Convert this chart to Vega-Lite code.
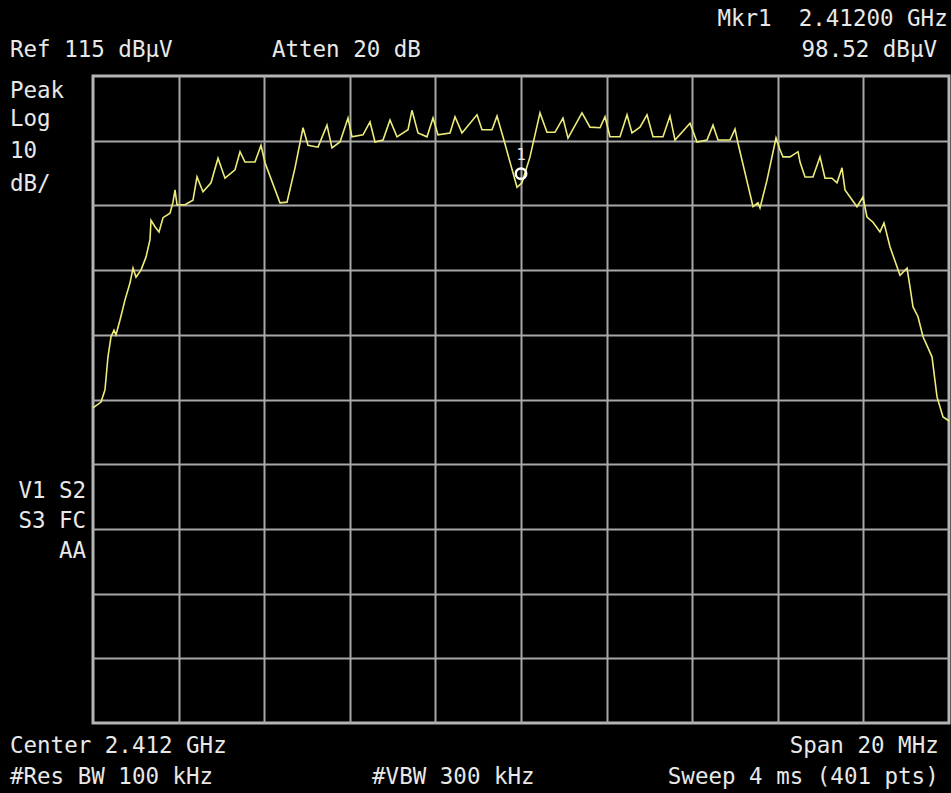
{
  "$schema": "https://vega.github.io/schema/vega-lite/v6.json",
  "autosize": "none",
  "width": 856,
  "height": 647,
  "padding": {"left": 93, "top": 76, "right": 2, "bottom": 70},
  "background": "#000000",
  "config": {
    "view": {"stroke": "#b4b4b4", "strokeWidth": 3, "fill": "#000000"},
    "text": {"font": "DejaVu Sans Mono", "fontSize": 22.5, "color": "#e8e8e8"}
  },
  "datasets": {
    "trace": [
      {"f": 2402.000, "db": 63.7}, {"f": 2402.187, "db": 64.6}, {"f": 2402.280, "db": 66.5}, {"f": 2402.350, "db": 71.6},
      {"f": 2402.421, "db": 74.7}, {"f": 2402.491, "db": 75.7}, {"f": 2402.537, "db": 75.0}, {"f": 2402.631, "db": 77.3},
      {"f": 2402.748, "db": 80.4}, {"f": 2402.864, "db": 83.0}, {"f": 2402.935, "db": 85.3}, {"f": 2403.005, "db": 83.9},
      {"f": 2403.121, "db": 85.0}, {"f": 2403.238, "db": 87.0}, {"f": 2403.332, "db": 89.7}, {"f": 2403.355, "db": 92.7},
      {"f": 2403.449, "db": 91.7}, {"f": 2403.542, "db": 90.9}, {"f": 2403.636, "db": 93.1}, {"f": 2403.799, "db": 93.8},
      {"f": 2403.869, "db": 95.5}, {"f": 2403.916, "db": 97.4}, {"f": 2403.963, "db": 95.1}, {"f": 2404.150, "db": 95.1},
      {"f": 2404.336, "db": 95.8}, {"f": 2404.430, "db": 99.4}, {"f": 2404.570, "db": 97.1}, {"f": 2404.757, "db": 98.5},
      {"f": 2404.921, "db": 102.3}, {"f": 2405.084, "db": 99.2}, {"f": 2405.318, "db": 100.5}, {"f": 2405.435, "db": 103.3},
      {"f": 2405.551, "db": 101.7}, {"f": 2405.785, "db": 101.7}, {"f": 2405.925, "db": 104.3}, {"f": 2406.019, "db": 101.6},
      {"f": 2406.369, "db": 95.4}, {"f": 2406.533, "db": 95.5}, {"f": 2406.720, "db": 100.8}, {"f": 2406.907, "db": 107.0},
      {"f": 2407.023, "db": 104.3}, {"f": 2407.257, "db": 104.0}, {"f": 2407.467, "db": 107.4}, {"f": 2407.584, "db": 103.9},
      {"f": 2407.771, "db": 104.8}, {"f": 2407.958, "db": 108.5}, {"f": 2408.051, "db": 105.6}, {"f": 2408.308, "db": 105.9},
      {"f": 2408.472, "db": 107.9}, {"f": 2408.589, "db": 104.8}, {"f": 2408.776, "db": 105.1}, {"f": 2408.939, "db": 108.2},
      {"f": 2409.103, "db": 105.6}, {"f": 2409.360, "db": 106.7}, {"f": 2409.453, "db": 109.7}, {"f": 2409.593, "db": 106.2},
      {"f": 2409.804, "db": 105.6}, {"f": 2409.944, "db": 108.5}, {"f": 2410.061, "db": 105.9}, {"f": 2410.341, "db": 106.2},
      {"f": 2410.458, "db": 108.7}, {"f": 2410.621, "db": 106.2}, {"f": 2410.972, "db": 109.0}, {"f": 2411.089, "db": 106.7},
      {"f": 2411.322, "db": 106.7}, {"f": 2411.439, "db": 108.8}, {"f": 2411.579, "db": 105.6}, {"f": 2411.907, "db": 97.8},
      {"f": 2412.023, "db": 98.5}, {"f": 2412.210, "db": 102.5}, {"f": 2412.444, "db": 109.3}, {"f": 2412.607, "db": 106.3},
      {"f": 2412.794, "db": 106.3}, {"f": 2412.981, "db": 108.5}, {"f": 2413.098, "db": 105.4}, {"f": 2413.425, "db": 109.3},
      {"f": 2413.612, "db": 107.1}, {"f": 2413.846, "db": 107.0}, {"f": 2413.963, "db": 108.7}, {"f": 2414.079, "db": 105.6},
      {"f": 2414.313, "db": 105.6}, {"f": 2414.477, "db": 109.0}, {"f": 2414.593, "db": 106.2}, {"f": 2414.780, "db": 107.1},
      {"f": 2414.944, "db": 109.0}, {"f": 2415.084, "db": 105.6}, {"f": 2415.318, "db": 105.6}, {"f": 2415.481, "db": 108.8},
      {"f": 2415.598, "db": 105.1}, {"f": 2415.949, "db": 107.7}, {"f": 2416.112, "db": 104.8}, {"f": 2416.346, "db": 105.1},
      {"f": 2416.486, "db": 107.4}, {"f": 2416.603, "db": 105.1}, {"f": 2416.883, "db": 105.1}, {"f": 2417.000, "db": 106.8},
      {"f": 2417.070, "db": 104.6}, {"f": 2417.421, "db": 94.8}, {"f": 2417.537, "db": 95.4}, {"f": 2417.584, "db": 94.6},
      {"f": 2417.748, "db": 98.9}, {"f": 2417.958, "db": 105.4}, {"f": 2418.051, "db": 103.6}, {"f": 2418.121, "db": 102.5},
      {"f": 2418.285, "db": 102.5}, {"f": 2418.472, "db": 103.3}, {"f": 2418.519, "db": 101.7}, {"f": 2418.636, "db": 99.4},
      {"f": 2418.822, "db": 99.4}, {"f": 2418.986, "db": 102.5}, {"f": 2419.103, "db": 99.2}, {"f": 2419.266, "db": 99.2},
      {"f": 2419.383, "db": 98.5}, {"f": 2419.500, "db": 100.8}, {"f": 2419.570, "db": 97.4}, {"f": 2419.850, "db": 94.8},
      {"f": 2419.991, "db": 96.3}, {"f": 2420.084, "db": 93.2}, {"f": 2420.224, "db": 92.4}, {"f": 2420.388, "db": 90.9},
      {"f": 2420.481, "db": 92.3}, {"f": 2420.621, "db": 88.6}, {"f": 2420.855, "db": 84.2}, {"f": 2421.019, "db": 85.3},
      {"f": 2421.089, "db": 82.4}, {"f": 2421.159, "db": 79.3}, {"f": 2421.276, "db": 77.8}, {"f": 2421.393, "db": 74.7},
      {"f": 2421.603, "db": 71.6}, {"f": 2421.720, "db": 65.4}, {"f": 2421.860, "db": 62.3}, {"f": 2421.977, "db": 61.8},
      {"f": 2422.000, "db": 61.6}
    ],
    "marker": [{"f": 2412.0, "db": 98.52, "label": "1"}],
    "leftText": [
      {"f": 2400.06, "db": 117.9, "label": "Ref 115 dBµV"},
      {"f": 2406.18, "db": 117.9, "label": "Atten 20 dB"},
      {"f": 2400.06, "db": 111.6, "label": "Peak"},
      {"f": 2400.06, "db": 107.2, "label": "Log"},
      {"f": 2400.06, "db": 102.3, "label": "10"},
      {"f": 2400.06, "db": 97.3, "label": "dB/"},
      {"f": 2400.06, "db": 10.3, "label": "Center 2.412 GHz"},
      {"f": 2400.06, "db": 5.5, "label": "#Res BW 100 kHz"},
      {"f": 2408.52, "db": 5.5, "label": "#VBW 300 kHz"}
    ],
    "rightText": [
      {"f": 2421.97, "db": 122.7, "label": "Mkr1\u00a0\u00a02.41200 GHz"},
      {"f": 2421.72, "db": 117.9, "label": "98.52 dBµV"},
      {"f": 2401.84, "db": 49.8, "label": "V1 S2"},
      {"f": 2401.84, "db": 45.2, "label": "S3 FC"},
      {"f": 2401.84, "db": 40.5, "label": "AA"},
      {"f": 2421.76, "db": 10.3, "label": "Span 20 MHz"},
      {"f": 2421.76, "db": 5.5, "label": "Sweep 4 ms (401 pts)"}
    ]
  },
  "encoding": {
    "x": {
      "field": "f", "type": "quantitative",
      "scale": {"domain": [2402, 2422], "nice": false, "zero": false},
      "axis": {"title": null, "labels": false, "ticks": false, "domain": false, "grid": true,
               "values": [2404, 2406, 2408, 2410, 2412, 2414, 2416, 2418, 2420],
               "gridColor": "#a8a8a8", "gridWidth": 2, "gridOpacity": 1}
    },
    "y": {
      "field": "db", "type": "quantitative",
      "scale": {"domain": [15, 115], "nice": false, "zero": false},
      "axis": {"title": null, "labels": false, "ticks": false, "domain": false, "grid": true,
               "values": [25, 35, 45, 55, 65, 75, 85, 95, 105],
               "gridColor": "#a8a8a8", "gridWidth": 2, "gridOpacity": 1}
    }
  },
  "layer": [
    {
      "data": {"name": "trace"},
      "mark": {"type": "line", "color": "#ecec7a", "strokeWidth": 1.6, "interpolate": "linear"}
    },
    {
      "data": {"name": "marker"},
      "mark": {"type": "point", "shape": "circle", "size": 110, "filled": false, "stroke": "#ffffff", "strokeWidth": 2.5, "opacity": 1, "yOffset": -9}
    },
    {
      "data": {"name": "marker"},
      "mark": {"type": "text", "fontSize": 16, "color": "#e8e8e8", "yOffset": -28, "align": "center"},
      "encoding": {"text": {"field": "label"}}
    },
    {
      "data": {"name": "leftText"},
      "mark": {"type": "text", "align": "left", "baseline": "alphabetic", "clip": false},
      "encoding": {"text": {"field": "label"}}
    },
    {
      "data": {"name": "rightText"},
      "mark": {"type": "text", "align": "right", "baseline": "alphabetic", "clip": false},
      "encoding": {"text": {"field": "label"}}
    }
  ]
}
